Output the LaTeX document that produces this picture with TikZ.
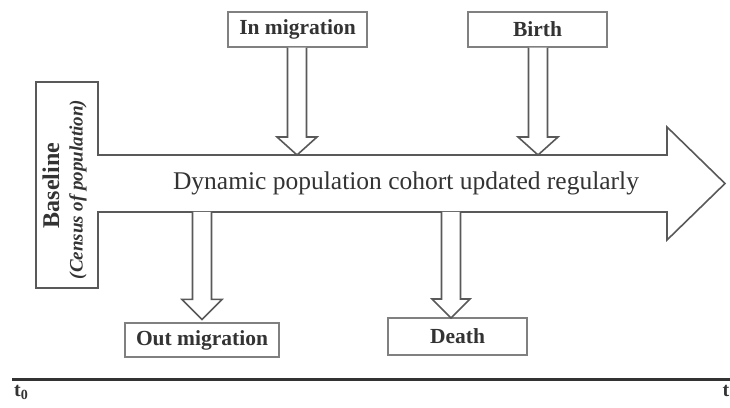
\documentclass[tikz,border=0pt]{standalone}
\usepackage{fontspec}
\setmainfont{Liberation Serif}
\usetikzlibrary{calc}

\begin{document}
\begin{tikzpicture}[x=1pt,y=1pt,
		event/.style={draw=black!50, line width=1.2pt, fill=white, inner sep=0pt,
			minimum height=35pt, text=black!80, font=\fontsize{21.5}{24}\selectfont\bfseries},
		hollow/.style={draw=black!65, line width=1.6pt, fill=white, line join=miter}]
				\useasboundingbox (0,0) rectangle (730,407);
				% Draw baseline box
				\node [draw=black!65, line width=1.4pt, minimum width=62pt, minimum height=206pt, inner sep=0pt] (base) at (67,222) {};
				\node [rotate=90, text=black!80, font=\fontsize{24}{26}\selectfont\bfseries] (basetitle) at (51,221.5) {Baseline};
				\node [rotate=90, text=black!80, font=\fontsize{19}{21}\selectfont\bfseries\itshape] (basesub) at (78,217.5) {(Census of population)};

				% Draw the big arrow of the cohort
				\coordinate (shaftTop) at (97,252);
				\coordinate (shaftBottom) at (97,195);
				\draw [hollow] (shaftTop) -- (667,252) -- (667,280) -- (725,223.5) -- (667,167) -- (667,195) -- (shaftBottom);
				\node [text=black!80, font=\fontsize{25.5}{28}\selectfont] (cohort) at (406,224) {Dynamic population cohort updated regularly};

				% Draw the event boxes
				\node [event, minimum width=139pt] (inmig) at (297.5,377.5) {In migration};
				\node [event, minimum width=139pt] (birth) at (537.5,377.5) {Birth};
				\node [event, minimum width=154pt, minimum height=34pt] (outmig) at (202,67) {Out migration};
				\node [event, minimum width=139pt, minimum height=37pt] (death) at (457.5,70.5) {Death};

				% Draw arrows into the cohort
				\coordinate (inTip) at (297,252);
				\draw [hollow] ($(inmig.south -| inTip)+(-9.5,0)$) -- ($(inTip)+(-9.5,18)$) -- ($(inTip)+(-20,18)$)
					-- (inTip) -- ($(inTip)+(20,18)$) -- ($(inTip)+(9.5,18)$) -- ($(inmig.south -| inTip)+(9.5,0)$);
				\coordinate (birthTip) at (538,252);
				\draw [hollow] ($(birth.south -| birthTip)+(-9.5,0)$) -- ($(birthTip)+(-9.5,18)$) -- ($(birthTip)+(-20,18)$)
					-- (birthTip) -- ($(birthTip)+(20,18)$) -- ($(birthTip)+(9.5,18)$) -- ($(birth.south -| birthTip)+(9.5,0)$);

				% Draw arrows out of the cohort
				\coordinate (outTip) at ($(outmig.north)+(0,3)$);
				\draw [hollow] ($(shaftBottom -| outTip)+(-9.5,0)$) -- ($(outTip)+(-9.5,20)$) -- ($(outTip)+(-20,20)$)
					-- (outTip) -- ($(outTip)+(20,20)$) -- ($(outTip)+(9.5,20)$) -- ($(shaftBottom -| outTip)+(9.5,0)$);
				\coordinate (deathTip) at (451,89);
				\draw [hollow] ($(shaftBottom -| deathTip)+(-9.5,0)$) -- ($(deathTip)+(-9.5,19)$) -- ($(deathTip)+(-19,19)$)
					-- (deathTip) -- ($(deathTip)+(19,19)$) -- ($(deathTip)+(9.5,19)$) -- ($(shaftBottom -| deathTip)+(9.5,0)$);

				% Draw time axis
				\coordinate (tstart) at (12,28);
				\coordinate (tend) at (731,28);
				\draw [line width=3pt, black!80] (tstart) -- (tend);
				\node [anchor=north west, inner sep=0pt, text=black!80, font=\fontsize{20}{22}\selectfont\bfseries] (tzero) at ($(tstart)+(2,-6)$) {t\textsubscript{0}};
				\node [anchor=north east, inner sep=0pt, text=black!80, font=\fontsize{20}{22}\selectfont\bfseries] (tfinal) at ($(tend)+(-1.5,-6)$) {t};
\end{tikzpicture}
\end{document}
